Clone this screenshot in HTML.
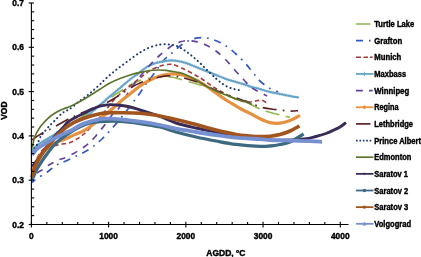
<!DOCTYPE html>
<html><head><meta charset="utf-8"><title>VOD vs AGDD</title>
<style>html,body{margin:0;padding:0;background:#fff;overflow:hidden}svg{display:block}</style></head>
<body>
<svg width="421" height="257" viewBox="0 0 421 257" style="display:block">
<rect width="421" height="257" fill="#fff"/>
<g fill="none" stroke-linejoin="round">
<path d="M32.00 149.00 C33.33 148.08 37.00 145.45 40.00 143.50 C43.00 141.55 46.67 139.38 50.00 137.30 C53.33 135.22 56.67 133.13 60.00 131.00 C63.33 128.87 65.83 127.17 70.00 124.50 C74.17 121.83 80.00 118.25 85.00 115.00 C90.00 111.75 95.83 107.83 100.00 105.00 C104.17 102.17 106.67 100.25 110.00 98.00 C113.33 95.75 116.67 93.67 120.00 91.50 C123.33 89.33 126.67 86.83 130.00 85.00 C133.33 83.17 136.67 81.67 140.00 80.50 C143.33 79.33 146.67 78.58 150.00 78.00 C153.33 77.42 156.67 77.17 160.00 77.00 C163.33 76.83 167.33 76.83 170.00 77.00 C172.67 77.17 172.67 77.17 176.00 78.00 C179.33 78.83 185.67 80.73 190.00 82.00 C194.33 83.27 197.67 84.10 202.00 85.60 C206.33 87.10 212.00 89.43 216.00 91.00 C220.00 92.57 222.67 93.67 226.00 95.00 C229.33 96.33 232.67 97.75 236.00 99.00 C239.33 100.25 243.67 101.67 246.00 102.50 C248.33 103.33 248.00 103.08 250.00 104.00 C252.00 104.92 255.33 106.78 258.00 108.00 C260.67 109.22 262.33 110.13 266.00 111.30 C269.67 112.47 276.00 114.00 280.00 115.00 C284.00 116.00 288.33 116.92 290.00 117.30" stroke="#93b84f" stroke-width="1.6" stroke-dasharray="14 6.7" stroke-dashoffset="8.8"/>
<path d="M32.00 182.50 C32.77 181.87 33.93 180.53 36.60 178.70 C39.27 176.87 44.72 173.75 48.00 171.50 C51.28 169.25 52.97 167.12 56.30 165.20 C59.63 163.28 62.72 162.53 68.00 160.00 C73.28 157.47 82.33 153.50 88.00 150.00 C93.67 146.50 97.50 143.17 102.00 139.00 C106.50 134.83 110.67 130.00 115.00 125.00 C119.33 120.00 124.83 113.00 128.00 109.00 C131.17 105.00 132.00 103.67 134.00 101.00 C136.00 98.33 138.00 95.83 140.00 93.00 C142.00 90.17 143.83 87.00 146.00 84.00 C148.17 81.00 150.00 79.00 153.00 75.00 C156.00 71.00 160.83 63.67 164.00 60.00 C167.17 56.33 169.33 55.33 172.00 53.00 C174.67 50.67 177.33 48.00 180.00 46.00 C182.67 44.00 185.00 42.37 188.00 41.00 C191.00 39.63 194.67 38.27 198.00 37.80 C201.33 37.33 204.67 37.58 208.00 38.20 C211.33 38.82 215.00 40.20 218.00 41.50 C221.00 42.80 223.00 43.92 226.00 46.00 C229.00 48.08 232.67 51.00 236.00 54.00 C239.33 57.00 243.67 61.50 246.00 64.00 C248.33 66.50 248.50 67.17 250.00 69.00 C251.50 70.83 253.17 72.83 255.00 75.00 C256.83 77.17 258.50 79.75 261.00 82.00 C263.50 84.25 267.17 86.83 270.00 88.50 C272.83 90.17 276.67 91.42 278.00 92.00" stroke="#3558c0" stroke-width="1.7" stroke-dasharray="7.2 5.7 1.7 5.7" stroke-dashoffset="2.5"/>
<path d="M32.00 172.00 C32.67 170.00 34.33 163.58 36.00 160.00 C37.67 156.42 40.00 152.75 42.00 150.50 C44.00 148.25 45.83 147.33 48.00 146.50 C50.17 145.67 52.83 145.88 55.00 145.50 C57.17 145.12 58.50 144.68 61.00 144.20 C63.50 143.72 67.50 143.38 70.00 142.60 C72.50 141.82 73.67 140.93 76.00 139.50 C78.33 138.07 81.00 136.58 84.00 134.00 C87.00 131.42 91.33 126.83 94.00 124.00 C96.67 121.17 98.00 119.33 100.00 117.00 C102.00 114.67 104.00 112.50 106.00 110.00 C108.00 107.50 109.67 104.67 112.00 102.00 C114.33 99.33 117.00 96.67 120.00 94.00 C123.00 91.33 126.67 88.67 130.00 86.00 C133.33 83.33 137.33 80.08 140.00 78.00 C142.67 75.92 144.33 74.75 146.00 73.50 C147.67 72.25 147.67 71.75 150.00 70.50 C152.33 69.25 156.67 67.05 160.00 66.00 C163.33 64.95 167.33 64.27 170.00 64.20 C172.67 64.13 173.33 64.63 176.00 65.60 C178.67 66.57 182.67 68.35 186.00 70.00 C189.33 71.65 193.33 74.00 196.00 75.50 C198.67 77.00 199.33 77.25 202.00 79.00 C204.67 80.75 208.67 83.83 212.00 86.00 C215.33 88.17 218.00 89.83 222.00 92.00 C226.00 94.17 232.00 97.33 236.00 99.00 C240.00 100.67 243.33 101.53 246.00 102.00 C248.67 102.47 250.00 102.05 252.00 101.80 C254.00 101.55 256.33 100.75 258.00 100.50 C259.67 100.25 260.57 99.92 262.00 100.30 C263.43 100.68 265.83 102.38 266.60 102.80" stroke="#a23b39" stroke-width="1.6" stroke-dasharray="4.5 3"/>
<path d="M32.00 150.50 C33.00 149.55 36.17 146.32 38.00 144.80 C39.83 143.28 41.33 142.47 43.00 141.40 C44.67 140.33 46.33 139.37 48.00 138.40 C49.67 137.43 51.33 136.63 53.00 135.60 C54.67 134.57 55.17 133.88 58.00 132.20 C60.83 130.52 65.50 128.03 70.00 125.50 C74.50 122.97 81.00 119.55 85.00 117.00 C89.00 114.45 91.50 112.20 94.00 110.20 C96.50 108.20 97.33 107.32 100.00 105.00 C102.67 102.68 106.67 99.13 110.00 96.30 C113.33 93.47 116.67 90.80 120.00 88.00 C123.33 85.20 127.00 81.90 130.00 79.50 C133.00 77.10 135.33 75.60 138.00 73.60 C140.67 71.60 143.50 69.10 146.00 67.50 C148.50 65.90 150.67 64.92 153.00 64.00 C155.33 63.08 157.17 62.60 160.00 62.00 C162.83 61.40 167.33 60.60 170.00 60.40 C172.67 60.20 173.33 60.37 176.00 60.80 C178.67 61.23 182.67 61.97 186.00 63.00 C189.33 64.03 192.67 65.67 196.00 67.00 C199.33 68.33 202.67 69.67 206.00 71.00 C209.33 72.33 212.67 73.67 216.00 75.00 C219.33 76.33 222.67 77.83 226.00 79.00 C229.33 80.17 232.67 81.00 236.00 82.00 C239.33 83.00 243.67 84.25 246.00 85.00 C248.33 85.75 247.67 85.83 250.00 86.50 C252.33 87.17 256.67 88.08 260.00 89.00 C263.33 89.92 265.00 90.83 270.00 92.00 C275.00 93.17 285.17 95.07 290.00 96.00 C294.83 96.93 297.50 97.33 299.00 97.60" stroke="#66a4c8" stroke-width="2.0"/>
<path d="M32.00 150.50 C33.00 149.55 36.17 146.32 38.00 144.80 C39.83 143.28 41.33 142.47 43.00 141.40 C44.67 140.33 46.33 139.37 48.00 138.40 C49.67 137.43 51.33 136.63 53.00 135.60 C54.67 134.57 55.17 133.88 58.00 132.20 C60.83 130.52 65.50 128.03 70.00 125.50 C74.50 122.97 81.00 119.55 85.00 117.00 C89.00 114.45 91.50 112.20 94.00 110.20 C96.50 108.20 97.33 107.32 100.00 105.00 C102.67 102.68 106.67 99.13 110.00 96.30 C113.33 93.47 116.67 90.80 120.00 88.00 C123.33 85.20 127.00 81.90 130.00 79.50 C133.00 77.10 135.33 75.60 138.00 73.60 C140.67 71.60 143.50 69.10 146.00 67.50 C148.50 65.90 150.67 64.92 153.00 64.00 C155.33 63.08 157.17 62.60 160.00 62.00 C162.83 61.40 167.33 60.60 170.00 60.40 C172.67 60.20 173.33 60.37 176.00 60.80 C178.67 61.23 182.67 61.97 186.00 63.00 C189.33 64.03 192.67 65.67 196.00 67.00 C199.33 68.33 202.67 69.67 206.00 71.00 C209.33 72.33 212.67 73.67 216.00 75.00 C219.33 76.33 222.67 77.83 226.00 79.00 C229.33 80.17 232.67 81.00 236.00 82.00 C239.33 83.00 243.67 84.25 246.00 85.00 C248.33 85.75 247.67 85.83 250.00 86.50 C252.33 87.17 256.67 88.08 260.00 89.00 C263.33 89.92 265.00 90.83 270.00 92.00 C275.00 93.17 285.17 95.07 290.00 96.00 C294.83 96.93 297.50 97.33 299.00 97.60" stroke="#66a4c8" stroke-width="3.4" stroke-dasharray="0.7 1.5" opacity="0.6"/>
<path d="M32.00 178.00 C32.83 177.17 35.22 174.40 37.00 173.00 C38.78 171.60 40.92 170.82 42.70 169.60 C44.48 168.38 45.93 166.85 47.70 165.70 C49.47 164.55 51.35 163.72 53.30 162.70 C55.25 161.68 56.95 160.63 59.40 159.60 C61.85 158.57 63.90 158.60 68.00 156.50 C72.10 154.40 79.67 150.08 84.00 147.00 C88.33 143.92 90.17 142.17 94.00 138.00 C97.83 133.83 104.00 125.83 107.00 122.00 C110.00 118.17 110.00 117.33 112.00 115.00 C114.00 112.67 116.33 111.67 119.00 108.00 C121.67 104.33 124.83 97.83 128.00 93.00 C131.17 88.17 134.33 83.67 138.00 79.00 C141.67 74.33 146.33 69.00 150.00 65.00 C153.67 61.00 156.67 58.00 160.00 55.00 C163.33 52.00 167.33 48.95 170.00 47.00 C172.67 45.05 173.33 44.37 176.00 43.30 C178.67 42.23 182.67 40.88 186.00 40.60 C189.33 40.32 192.67 40.87 196.00 41.60 C199.33 42.33 202.67 43.43 206.00 45.00 C209.33 46.57 212.67 48.50 216.00 51.00 C219.33 53.50 222.67 56.58 226.00 60.00 C229.33 63.42 233.00 68.17 236.00 71.50 C239.00 74.83 241.67 77.50 244.00 80.00 C246.33 82.50 248.00 84.78 250.00 86.50 C252.00 88.22 253.17 88.72 256.00 90.30 C258.83 91.88 265.17 95.05 267.00 96.00" stroke="#62429c" stroke-width="1.7" stroke-dasharray="6.5 6.6" stroke-dashoffset="6.0"/>
<path d="M32.00 170.00 C32.33 169.17 32.33 167.83 34.00 165.00 C35.67 162.17 39.33 156.17 42.00 153.00 C44.67 149.83 47.33 147.87 50.00 146.00 C52.67 144.13 55.77 142.83 58.00 141.80 C60.23 140.77 61.40 140.60 63.40 139.80 C65.40 139.00 68.12 137.87 70.00 137.00 C71.88 136.13 72.37 135.67 74.70 134.60 C77.03 133.53 80.62 132.53 84.00 130.60 C87.38 128.67 91.67 125.50 95.00 123.00 C98.33 120.50 101.17 117.93 104.00 115.60 C106.83 113.27 109.33 111.27 112.00 109.00 C114.67 106.73 117.00 104.50 120.00 102.00 C123.00 99.50 126.67 96.67 130.00 94.00 C133.33 91.33 136.67 88.33 140.00 86.00 C143.33 83.67 146.67 81.67 150.00 80.00 C153.33 78.33 156.67 77.00 160.00 76.00 C163.33 75.00 167.33 74.33 170.00 74.00 C172.67 73.67 173.33 73.67 176.00 74.00 C178.67 74.33 182.67 75.00 186.00 76.00 C189.33 77.00 192.67 78.33 196.00 80.00 C199.33 81.67 202.67 83.83 206.00 86.00 C209.33 88.17 212.67 90.67 216.00 93.00 C219.33 95.33 222.67 97.83 226.00 100.00 C229.33 102.17 233.17 104.33 236.00 106.00 C238.83 107.67 240.67 108.78 243.00 110.00 C245.33 111.22 247.17 111.83 250.00 113.30 C252.83 114.77 256.67 117.25 260.00 118.80 C263.33 120.35 266.67 121.87 270.00 122.60 C273.33 123.33 276.67 123.53 280.00 123.20 C283.33 122.87 286.67 121.90 290.00 120.60 C293.33 119.30 298.33 116.27 300.00 115.40" stroke="#e5913f" stroke-width="3.2"/>
<path d="M32.00 140.00 C32.67 139.50 34.50 138.00 36.00 137.00 C37.50 136.00 39.67 134.80 41.00 134.00 C42.33 133.20 42.62 132.92 44.00 132.20 C45.38 131.48 47.30 130.73 49.30 129.70 C51.30 128.67 53.10 127.62 56.00 126.00 C58.90 124.38 63.58 121.67 66.70 120.00 C69.82 118.33 70.82 117.75 74.70 116.00 C78.58 114.25 84.45 111.83 90.00 109.50 C95.55 107.17 103.33 104.25 108.00 102.00 C112.67 99.75 114.00 98.50 118.00 96.00 C122.00 93.50 128.33 89.17 132.00 87.00 C135.67 84.83 137.00 84.25 140.00 83.00 C143.00 81.75 146.67 80.50 150.00 79.50 C153.33 78.50 157.00 77.62 160.00 77.00 C163.00 76.38 165.33 75.92 168.00 75.80 C170.67 75.68 173.33 75.93 176.00 76.30 C178.67 76.67 180.00 76.88 184.00 78.00 C188.00 79.12 194.00 80.67 200.00 83.00 C206.00 85.33 213.00 89.17 220.00 92.00 C227.00 94.83 237.33 98.33 242.00 100.00 C246.67 101.67 244.67 100.77 248.00 102.00 C251.33 103.23 257.33 106.13 262.00 107.40 C266.67 108.67 271.33 109.00 276.00 109.60 C280.67 110.20 286.33 110.83 290.00 111.00 C293.67 111.17 296.67 110.67 298.00 110.60" stroke="#5e2226" stroke-width="1.7" stroke-dasharray="14 6.2 1.6 6.2" stroke-dashoffset="0.15"/>
<path d="M32.00 152.00 C32.50 151.28 34.07 149.08 35.00 147.70 C35.93 146.32 36.93 144.98 37.60 143.70 C38.27 142.42 38.43 141.28 39.00 140.00 C39.57 138.72 40.22 137.25 41.00 136.00 C41.78 134.75 42.42 134.05 43.70 132.50 C44.98 130.95 46.87 128.67 48.70 126.70 C50.53 124.73 52.50 122.93 54.70 120.70 C56.90 118.47 60.12 114.83 61.90 113.30 C63.68 111.77 64.22 112.18 65.40 111.50 C66.58 110.82 67.80 109.95 69.00 109.20 C70.20 108.45 71.02 108.23 72.60 107.00 C74.18 105.77 76.13 103.65 78.50 101.80 C80.87 99.95 84.42 97.72 86.80 95.90 C89.17 94.08 90.67 92.72 92.75 90.90 C94.83 89.08 97.09 87.07 99.30 85.00 C101.51 82.93 103.22 81.00 106.00 78.50 C108.78 76.00 112.33 72.92 116.00 70.00 C119.67 67.08 124.00 63.92 128.00 61.00 C132.00 58.08 136.33 54.78 140.00 52.50 C143.67 50.22 146.67 48.62 150.00 47.30 C153.33 45.98 157.00 45.08 160.00 44.60 C163.00 44.12 165.33 44.22 168.00 44.40 C170.67 44.58 173.33 44.77 176.00 45.70 C178.67 46.63 181.33 48.28 184.00 50.00 C186.67 51.72 189.33 53.83 192.00 56.00 C194.67 58.17 197.33 60.50 200.00 63.00 C202.67 65.50 205.33 68.42 208.00 71.00 C210.67 73.58 213.67 76.42 216.00 78.50 C218.33 80.58 220.00 82.08 222.00 83.50 C224.00 84.92 226.00 86.08 228.00 87.00 C230.00 87.92 232.17 88.50 234.00 89.00 C235.83 89.50 238.17 89.83 239.00 90.00" stroke="#1f3a73" stroke-width="2.0" stroke-dasharray="0.2 4.06" stroke-linecap="round"/>
<path d="M32.00 147.00 C32.10 146.87 32.27 147.53 32.60 146.20 C32.93 144.87 33.43 141.03 34.00 139.00 C34.57 136.97 35.33 135.42 36.00 134.00 C36.67 132.58 37.12 131.92 38.00 130.50 C38.88 129.08 39.63 127.53 41.30 125.50 C42.97 123.47 45.76 120.33 48.00 118.30 C50.24 116.27 52.43 114.75 54.75 113.30 C57.07 111.85 59.86 110.55 61.90 109.60 C63.94 108.65 65.03 108.40 67.00 107.60 C68.97 106.80 71.58 105.82 73.75 104.80 C75.92 103.78 78.03 102.59 80.00 101.50 C81.97 100.41 83.60 99.45 85.60 98.25 C87.60 97.05 89.62 95.81 92.00 94.30 C94.38 92.79 96.90 91.08 99.90 89.20 C102.90 87.32 106.65 84.78 110.00 83.00 C113.35 81.22 116.67 79.83 120.00 78.50 C123.33 77.17 126.67 76.02 130.00 75.00 C133.33 73.98 136.67 73.15 140.00 72.40 C143.33 71.65 147.00 70.90 150.00 70.50 C153.00 70.10 155.33 70.03 158.00 70.00 C160.67 69.97 163.00 69.97 166.00 70.30 C169.00 70.63 173.00 71.38 176.00 72.00 C179.00 72.62 180.67 72.67 184.00 74.00 C187.33 75.33 192.33 78.00 196.00 80.00 C199.67 82.00 202.67 84.17 206.00 86.00 C209.33 87.83 212.67 89.50 216.00 91.00 C219.33 92.50 222.67 93.67 226.00 95.00 C229.33 96.33 232.67 97.83 236.00 99.00 C239.33 100.17 243.33 101.08 246.00 102.00 C248.67 102.92 251.00 104.08 252.00 104.50" stroke="#5b752d" stroke-width="1.7"/>
<path d="M32.00 166.00 C32.50 165.58 33.88 164.78 35.00 163.50 C36.12 162.22 37.25 160.42 38.70 158.30 C40.15 156.18 42.07 153.13 43.70 150.80 C45.33 148.47 46.92 146.35 48.50 144.30 C50.08 142.25 51.62 140.42 53.20 138.50 C54.78 136.58 56.37 134.62 58.00 132.80 C59.63 130.98 61.33 129.40 63.00 127.60 C64.67 125.80 65.83 123.73 68.00 122.00 C70.17 120.27 73.33 118.65 76.00 117.20 C78.67 115.75 81.33 114.63 84.00 113.30 C86.67 111.97 89.33 110.38 92.00 109.20 C94.67 108.02 97.00 106.97 100.00 106.20 C103.00 105.43 106.67 104.75 110.00 104.60 C113.33 104.45 116.67 104.90 120.00 105.30 C123.33 105.70 126.67 106.22 130.00 107.00 C133.33 107.78 135.00 108.42 140.00 110.00 C145.00 111.58 154.00 114.33 160.00 116.50 C166.00 118.67 170.00 121.08 176.00 123.00 C182.00 124.92 189.33 126.50 196.00 128.00 C202.67 129.50 209.33 130.67 216.00 132.00 C222.67 133.33 228.67 134.83 236.00 136.00 C243.33 137.17 252.67 138.28 260.00 139.00 C267.33 139.72 272.67 140.30 280.00 140.30 C287.33 140.30 298.00 139.63 304.00 139.00 C310.00 138.37 312.33 137.42 316.00 136.50 C319.67 135.58 323.00 134.58 326.00 133.50 C329.00 132.42 331.67 131.08 334.00 130.00 C336.33 128.92 338.00 128.23 340.00 127.00 C342.00 125.77 345.00 123.33 346.00 122.60" stroke="#3b2c57" stroke-width="2.9"/>
<path d="M32.00 180.00 C32.37 179.17 33.37 176.83 34.20 175.00 C35.03 173.17 35.70 171.33 37.00 169.00 C38.30 166.67 40.33 163.50 42.00 161.00 C43.67 158.50 45.62 155.92 47.00 154.00 C48.38 152.08 49.05 151.07 50.30 149.50 C51.55 147.93 52.80 146.30 54.50 144.60 C56.20 142.90 57.92 141.32 60.50 139.30 C63.08 137.28 66.75 134.58 70.00 132.50 C73.25 130.42 76.67 128.38 80.00 126.80 C83.33 125.22 86.67 123.88 90.00 123.00 C93.33 122.12 95.00 121.78 100.00 121.50 C105.00 121.22 113.33 120.97 120.00 121.30 C126.67 121.63 133.33 122.55 140.00 123.50 C146.67 124.45 154.00 125.58 160.00 127.00 C166.00 128.42 170.00 130.33 176.00 132.00 C182.00 133.67 189.33 135.50 196.00 137.00 C202.67 138.50 209.33 139.77 216.00 141.00 C222.67 142.23 228.67 143.50 236.00 144.40 C243.33 145.30 254.33 146.13 260.00 146.40 C265.67 146.67 266.67 146.32 270.00 146.00 C273.33 145.68 276.67 145.17 280.00 144.50 C283.33 143.83 287.00 143.17 290.00 142.00 C293.00 140.83 295.73 138.83 298.00 137.50 C300.27 136.17 302.67 134.58 303.60 134.00" stroke="#3d6a80" stroke-width="3.3"/>
<path d="M32.00 177.50 C32.43 175.83 33.48 170.53 34.60 167.50 C35.72 164.47 37.18 161.92 38.70 159.30 C40.22 156.68 42.07 154.10 43.70 151.80 C45.33 149.50 46.92 147.47 48.50 145.50 C50.08 143.53 51.62 141.83 53.20 140.00 C54.78 138.17 56.37 136.17 58.00 134.50 C59.63 132.83 61.33 131.42 63.00 130.00 C64.67 128.58 66.05 127.33 68.00 126.00 C69.95 124.67 72.03 123.30 74.70 122.00 C77.37 120.70 79.78 119.57 84.00 118.20 C88.22 116.83 95.67 114.70 100.00 113.80 C104.33 112.90 106.67 112.98 110.00 112.80 C113.33 112.62 115.00 112.62 120.00 112.70 C125.00 112.78 133.33 112.75 140.00 113.30 C146.67 113.85 154.00 114.97 160.00 116.00 C166.00 117.03 170.00 118.08 176.00 119.50 C182.00 120.92 189.33 122.75 196.00 124.50 C202.67 126.25 209.33 128.35 216.00 130.00 C222.67 131.65 230.33 133.40 236.00 134.40 C241.67 135.40 246.00 135.63 250.00 136.00 C254.00 136.37 256.67 136.57 260.00 136.60 C263.33 136.63 266.67 136.53 270.00 136.20 C273.33 135.87 276.67 135.47 280.00 134.60 C283.33 133.73 286.75 132.43 290.00 131.00 C293.25 129.57 297.92 126.83 299.50 126.00" stroke="#a2541e" stroke-width="3.6"/>
<path d="M32.00 155.00 C32.50 154.33 34.00 152.17 35.00 151.00 C36.00 149.83 36.67 149.00 38.00 148.00 C39.33 147.00 41.33 146.03 43.00 145.00 C44.67 143.97 45.50 143.22 48.00 141.80 C50.50 140.38 54.33 138.30 58.00 136.50 C61.67 134.70 65.67 133.15 70.00 131.00 C74.33 128.85 79.00 125.58 84.00 123.60 C89.00 121.62 95.67 119.92 100.00 119.10 C104.33 118.28 106.67 118.65 110.00 118.70 C113.33 118.75 115.00 118.90 120.00 119.40 C125.00 119.90 133.33 120.77 140.00 121.70 C146.67 122.63 154.00 123.83 160.00 125.00 C166.00 126.17 170.00 127.53 176.00 128.70 C182.00 129.87 189.33 130.95 196.00 132.00 C202.67 133.05 209.33 134.07 216.00 135.00 C222.67 135.93 228.67 136.90 236.00 137.60 C243.33 138.30 254.33 138.80 260.00 139.20 C265.67 139.60 265.00 139.77 270.00 140.00 C275.00 140.23 283.33 140.40 290.00 140.60 C296.67 140.80 304.67 141.00 310.00 141.20 C315.33 141.40 320.00 141.70 322.00 141.80" stroke="#7690d2" stroke-width="3.8"/>
</g>
<g stroke="#000" stroke-width="1.1" fill="none">
<path d="M31.4 3V224.5H348.5"/>
<path d="M28.7 224.50H33.9"/>
<path d="M31.4 215.64H34.2"/>
<path d="M31.4 206.78H34.2"/>
<path d="M31.4 197.92H34.2"/>
<path d="M31.4 189.06H34.2"/>
<path d="M28.7 180.20H33.9"/>
<path d="M31.4 171.34H34.2"/>
<path d="M31.4 162.48H34.2"/>
<path d="M31.4 153.62H34.2"/>
<path d="M31.4 144.76H34.2"/>
<path d="M28.7 135.90H33.9"/>
<path d="M31.4 127.04H34.2"/>
<path d="M31.4 118.18H34.2"/>
<path d="M31.4 109.32H34.2"/>
<path d="M31.4 100.46H34.2"/>
<path d="M28.7 91.60H33.9"/>
<path d="M31.4 82.74H34.2"/>
<path d="M31.4 73.88H34.2"/>
<path d="M31.4 65.02H34.2"/>
<path d="M31.4 56.16H34.2"/>
<path d="M28.7 47.30H33.9"/>
<path d="M31.4 38.44H34.2"/>
<path d="M31.4 29.58H34.2"/>
<path d="M31.4 20.72H34.2"/>
<path d="M31.4 11.86H34.2"/>
<path d="M28.7 3.00H33.9"/>
<path d="M31.40 221.8V227.4"/>
<path d="M46.84 224.5V221.9"/>
<path d="M62.29 224.5V221.9"/>
<path d="M77.73 224.5V221.9"/>
<path d="M93.18 224.5V221.9"/>
<path d="M108.62 221.8V227.4"/>
<path d="M124.06 224.5V221.9"/>
<path d="M139.51 224.5V221.9"/>
<path d="M154.95 224.5V221.9"/>
<path d="M170.40 224.5V221.9"/>
<path d="M185.84 221.8V227.4"/>
<path d="M201.28 224.5V221.9"/>
<path d="M216.73 224.5V221.9"/>
<path d="M232.17 224.5V221.9"/>
<path d="M247.62 224.5V221.9"/>
<path d="M263.06 221.8V227.4"/>
<path d="M278.50 224.5V221.9"/>
<path d="M293.95 224.5V221.9"/>
<path d="M309.39 224.5V221.9"/>
<path d="M324.84 224.5V221.9"/>
<path d="M340.28 221.8V227.4"/>
</g>
<g font-family="'Liberation Sans', sans-serif" font-weight="bold" font-size="8.4" fill="#000" stroke="#000" stroke-width="0.4" stroke-linejoin="round">
<text x="24" y="227.60" text-anchor="end">0.2</text>
<text x="24" y="183.30" text-anchor="end">0.3</text>
<text x="24" y="139.00" text-anchor="end">0.4</text>
<text x="24" y="94.70" text-anchor="end">0.5</text>
<text x="24" y="50.40" text-anchor="end">0.6</text>
<text x="24" y="6.10" text-anchor="end">0.7</text>
<text x="31.40" y="238.7" text-anchor="middle">0</text>
<text x="108.62" y="238.7" text-anchor="middle">1000</text>
<text x="185.84" y="238.7" text-anchor="middle">2000</text>
<text x="263.06" y="238.7" text-anchor="middle">3000</text>
<text x="340.28" y="238.7" text-anchor="middle">4000</text>
<text x="206.3" y="255.8" font-size="8.5">AGDD, ºC</text>
<text transform="translate(6.7 119.8) rotate(-90)" font-size="8.5">VOD</text>
<text x="374.3" y="27.15" textLength="39.9" lengthAdjust="spacingAndGlyphs">Turtle Lake</text>
<text x="374.3" y="43.80" textLength="27.8" lengthAdjust="spacingAndGlyphs">Grafton</text>
<text x="374.3" y="60.45" textLength="27.0" lengthAdjust="spacingAndGlyphs">Munich</text>
<text x="374.3" y="77.10" textLength="31.8" lengthAdjust="spacingAndGlyphs">Maxbass</text>
<text x="374.3" y="93.75" textLength="34.9" lengthAdjust="spacingAndGlyphs">Winnipeg</text>
<text x="374.3" y="110.40" textLength="24.3" lengthAdjust="spacingAndGlyphs">Regina</text>
<text x="374.3" y="127.05" textLength="38.7" lengthAdjust="spacingAndGlyphs">Lethbridge</text>
<text x="374.3" y="143.70" textLength="46.6" lengthAdjust="spacingAndGlyphs">Prince Albert</text>
<text x="374.3" y="160.35" textLength="37.0" lengthAdjust="spacingAndGlyphs">Edmonton</text>
<text x="374.3" y="177.00" textLength="33.7" lengthAdjust="spacingAndGlyphs">Saratov 1</text>
<text x="374.3" y="193.65" textLength="33.9" lengthAdjust="spacingAndGlyphs">Saratov 2</text>
<text x="374.3" y="210.30" textLength="33.9" lengthAdjust="spacingAndGlyphs">Saratov 3</text>
<text x="374.3" y="226.95" textLength="36.7" lengthAdjust="spacingAndGlyphs">Volgograd</text>
</g>
<g fill="none">
<path d="M355.9 24.00H370.5" stroke="#93b84f" stroke-width="1.6"/>
<path d="M356 40.65H363M369 40.65H370.6" stroke="#3558c0" stroke-width="1.7"/>
<path d="M356 57.30H361M363.6 57.30H368M370 57.30H372.7" stroke="#a23b39" stroke-width="1.6"/>
<path d="M355.9 73.95H373.5" stroke="#66a4c8" stroke-width="1.8"/>
<path d="M364.4 71.75V76.15" stroke="#66a4c8" stroke-width="0.9"/>
<path d="M356 90.60H362.8M369 90.60H372.7" stroke="#62429c" stroke-width="1.7"/>
<path d="M355.9 107.25H373.5" stroke="#e5913f" stroke-width="1.8"/>
<path d="M364.4 105.05l2 2.2l-2 2.2l-2 -2.2z" fill="#e5913f"/>
<path d="M355.9 123.90H370.5" stroke="#5e2226" stroke-width="1.7"/>
<path d="M356 140.55H372" stroke="#1f3a73" stroke-width="1.8" stroke-dasharray="1.7 1.7"/>
<path d="M355.9 157.20H373.5" stroke="#5b752d" stroke-width="1.7"/>
<path d="M355.9 173.85H373.5" stroke="#3b2c57" stroke-width="1.8"/>
<circle cx="364.4" cy="173.85" r="1.1" fill="#3b2c57"/>
<path d="M355.9 190.50H373.5" stroke="#3d6a80" stroke-width="1.8"/>
<circle cx="364.4" cy="190.50" r="1.8" fill="#3d6a80"/>
<path d="M355.9 207.15H373.5" stroke="#a2541e" stroke-width="1.8"/>
<rect x="363.0" y="205.75" width="2.8" height="2.8" fill="#a2541e"/>
<path d="M355.9 223.80H373.5" stroke="#7690d2" stroke-width="1.8"/>
<path d="M364.4 221.60l2 3.8h-4z" fill="#7690d2"/>
</g>
</svg>
</body></html>
